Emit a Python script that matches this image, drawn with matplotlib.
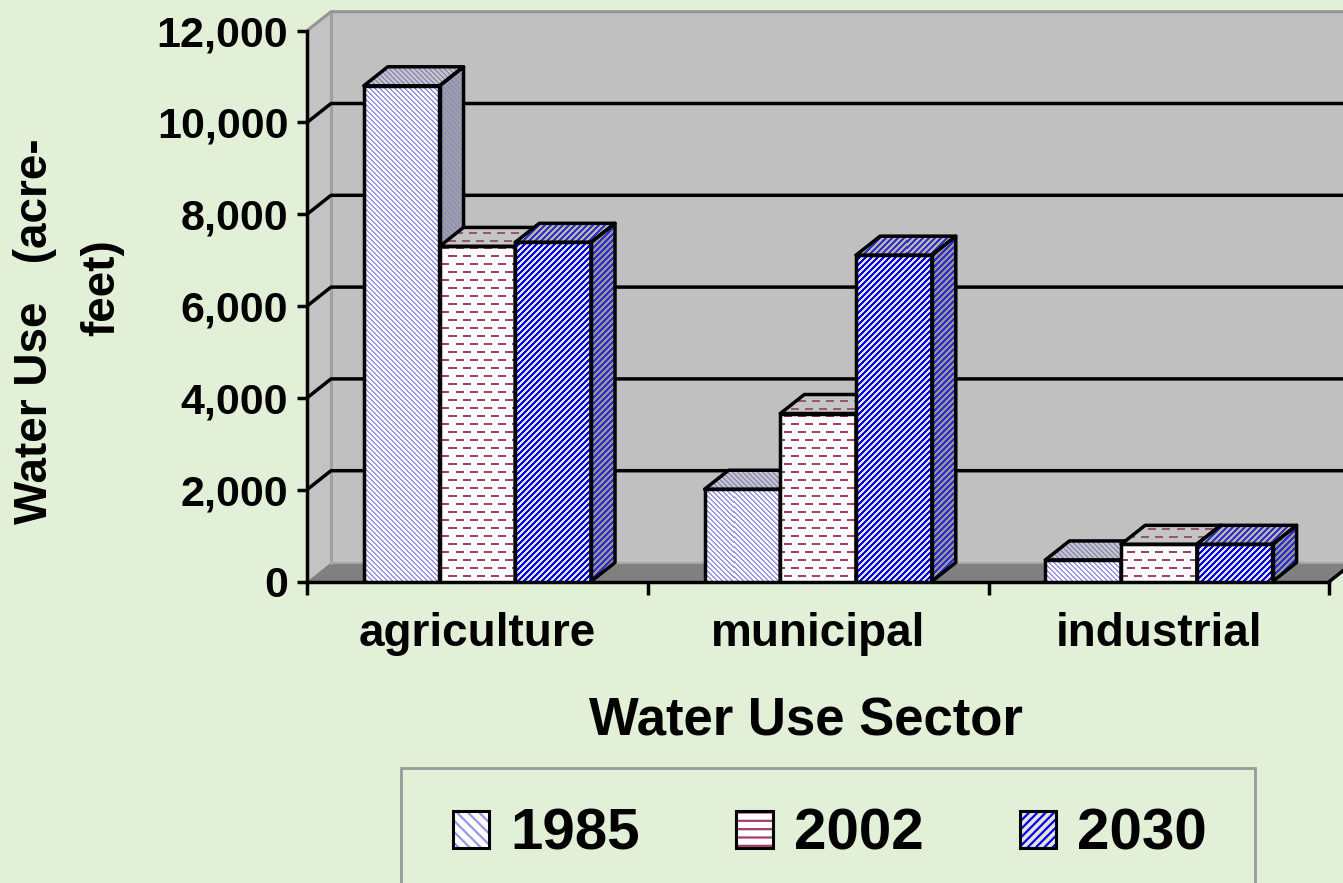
import numpy as np
import matplotlib
matplotlib.use('Agg')
import matplotlib.pyplot as plt
from matplotlib.patches import Polygon, Rectangle, Patch
from matplotlib.legend_handler import HandlerTuple

# data
sectors = ['agriculture', 'municipal', 'industrial']
years = ['1985', '2002', '2030']
use_1985 = [10800, 2010, 470]
use_2002 = [7300, 3660, 810]
use_2030 = [7390, 7110, 810]
yticks = [0, 2000, 4000, 6000, 8000, 10000, 12000]

plt.rcParams['font.family'] = ['Liberation Sans', 'DejaVu Sans']
plt.rcParams['font.weight'] = 'bold'
plt.rcParams['hatch.linewidth'] = 1.6

BG = '#E3F0D8'
W, H = 1343, 883
fig = plt.figure(figsize=(W / 100, H / 100), dpi=100, facecolor=BG)

# axes placed so 1 x-unit = one category, 3D depth drawn by hand
px_x = 340.8          # pixels per category
px_y = 0.0459         # pixels per acre-foot
x0_px, y0_px = 307, 581.5
xmax = (W - x0_px) / px_x
ymax = 12600
ax = fig.add_axes([x0_px / W, (H - y0_px) / H, (W - x0_px) / W, ymax * px_y / H])
ax.set_xlim(0, xmax)
ax.set_ylim(0, ymax)
ax.set_autoscale_on(False)
ax.patch.set_visible(False)

DX = 24 / px_x        # depth offset
DY = 19 / px_y
lw = 2.5

# walls and floor
ax.add_patch(Polygon([(DX, DY), (xmax + 1, DY), (xmax + 1, 12000 + DY), (DX, 12000 + DY)],
                     facecolor='#C0C0C0', edgecolor='none', zorder=0.5))
ax.add_patch(Polygon([(0, 0), (DX, DY), (DX, 12000 + DY), (0, 12000)],
                     facecolor='#C3C3C3', edgecolor='none', zorder=0.6))
ax.add_patch(Polygon([(0, 0), (3, 0), (3 + DX, DY), (DX, DY)],
                     facecolor='#808080', edgecolor='none', zorder=0.7))
ax.plot([DX, DX], [DY, 12000 + DY], color='#A0A0A0', lw=2.2, zorder=0.8)
ax.plot([0, DX, xmax + 1], [12000, 12000 + DY, 12000 + DY], color='#959595', lw=2.2, zorder=0.8)
ax.plot([DX, xmax + 1], [DY, DY], color='#A5A5A5', lw=1.5, zorder=0.8)
for v in yticks[1:-1]:
    ax.plot([0, DX, xmax + 1], [v, v + DY, v + DY], color='black', lw=lw, zorder=1.5)
ax.plot([3, 3 + DX], [0, DY], color='black', lw=lw, zorder=1.5, clip_on=False)

# axes lines and ticks
for s in ['top', 'right']:
    ax.spines[s].set_visible(False)
ax.spines['left'].set_bounds(0, 12000)
ax.spines['bottom'].set_bounds(0, 3)
ax.spines['left'].set_linewidth(lw)
ax.spines['bottom'].set_linewidth(lw)
ax.set_yticks(yticks)
ax.set_yticklabels([f'{v:,}' for v in yticks])
ax.tick_params(axis='y', length=7.5, width=lw, pad=6, labelsize=31)
ax.set_xticks([0, 1, 2, 3])
ax.set_xticklabels([])
ax.set_xticks([0.5, 1.5, 2.5], minor=True)
ax.set_xticklabels(sectors, minor=True)
ax.tick_params(axis='x', which='major', length=9, width=lw)
ax.tick_params(axis='x', which='minor', length=0, pad=22, labelsize=33)


def pattern(kind, X, Y):
    if kind == 'diag_down':
        return ((X - Y) % 5) < 2
    if kind == 'diag_up':
        return ((X + Y) % 6) < 3
    # dashes
    row = (Y // 8) % 2
    return ((Y % 8) < 2) & (((X + row * 7) % 14) < 8)


def texture(clip, xy, kind, fg, bg, z):
    xs = [p[0] for p in xy]
    ys = [p[1] for p in xy]
    (a0, b0), (a1, b1) = ax.transData.transform([(min(xs), min(ys)), (max(xs), max(ys))])
    ix0, ix1 = int(np.floor(a0)), int(np.ceil(a1))
    iy0, iy1 = int(np.floor(b0)), int(np.ceil(b1))
    X, Y = np.meshgrid(np.arange(ix0, ix1), H - np.arange(iy1, iy0, -1))
    m = pattern(kind, X, Y)
    img = np.where(m[..., None], np.array(fg) / 255, np.array(bg) / 255)
    inv = ax.transData.inverted()
    (e0, f0), (e1, f1) = inv.transform([(ix0, iy0), (ix1, iy1)])
    im = ax.imshow(img, extent=(e0, e1, f0, f1), origin='upper', interpolation='nearest',
                   aspect='auto', zorder=z)
    im.set_clip_path(clip)


def shade(c, f, grey=128):
    # mix a colour toward grey
    return [v * f + grey * (1 - f) for v in c]


series = [use_1985, use_2002, use_2030]
kinds = ['diag_down', 'dashes', 'diag_up']
fgs = [(150, 150, 235), (165, 60, 105), (0, 0, 255)]
bgs = [(255, 255, 255), (255, 255, 255), (228, 228, 208)]
w = 2 / 9

for j, vals in enumerate(series):
    lefts = [i + 0.5 - 1.5 * w + j * w for i in range(len(sectors))]
    bars = ax.bar(lefts, vals, width=w, align='edge', facecolor='none',
                  edgecolor='black', linewidth=lw)
    for i, (bar, x, h) in enumerate(zip(bars, lefts, vals)):
        z = 10 + 3 * i + j
        bar.set_zorder(z + 0.5)
        front = [(x, 0), (x + w, 0), (x + w, h), (x, h)]
        top = [(x, h), (x + w, h), (x + w + DX, h + DY), (x + DX, h + DY)]
        side = [(x + w, 0), (x + w + DX, DY), (x + w + DX, h + DY), (x + w, h)]
        texture(bar, front, kinds[j], fgs[j], bgs[j], z)
        for xy, f_fg, f_bg in [(top, 0.6, 0.55), (side, 0.65, 0.25)]:
            p = Polygon(xy, closed=True, facecolor='none', edgecolor='black',
                        linewidth=lw, joinstyle='round', zorder=z + 0.5)
            ax.add_patch(p)
            texture(p, xy, kinds[j], shade(fgs[j], f_fg), shade(bgs[j], f_bg), z)

ax.set_xlim(0, xmax)
ax.set_ylim(0, ymax)

# axis titles
fig.text(806 / W, 1 - 722 / H, 'Water Use Sector', fontsize=38, fontweight='bold',
         ha='center', va='center')
fig.text(35 / W, 1 - 331 / H, 'Water Use   (acre-', fontsize=33, fontweight='bold',
         rotation=90, ha='center', va='center')
fig.text(102 / W, 1 - 288 / H, 'feet)', fontsize=33, fontweight='bold',
         rotation=90, ha='center', va='center')

# legend
hatches = ['\\\\\\', '--', '////']
handles = []
for j in range(3):
    fill = Patch(facecolor=np.array(bgs[j]) / 255, edgecolor=np.array(fgs[j]) / 255,
                 hatch=hatches[j], linewidth=0)
    edge = Patch(facecolor='none', edgecolor='black', linewidth=2.2)
    handles.append((fill, edge))
fig.legend(handles, years, handler_map={tuple: HandlerTuple(ndivide=1)},
           loc='center', bbox_to_anchor=(830 / W, 1 - 835 / H), ncol=3, frameon=False,
           prop={'size': 42, 'weight': 'bold'}, handlelength=0.62, handleheight=0.62,
           handletextpad=0.36, columnspacing=1.66)
fig.patches.append(Rectangle((401 / W, -0.1), 854 / W, 0.1 + 1 - 768 / H,
                             transform=fig.transFigure, fill=False,
                             edgecolor='#9A9A9A', linewidth=2))

fig.savefig('out.png', dpi=100, facecolor=BG)
